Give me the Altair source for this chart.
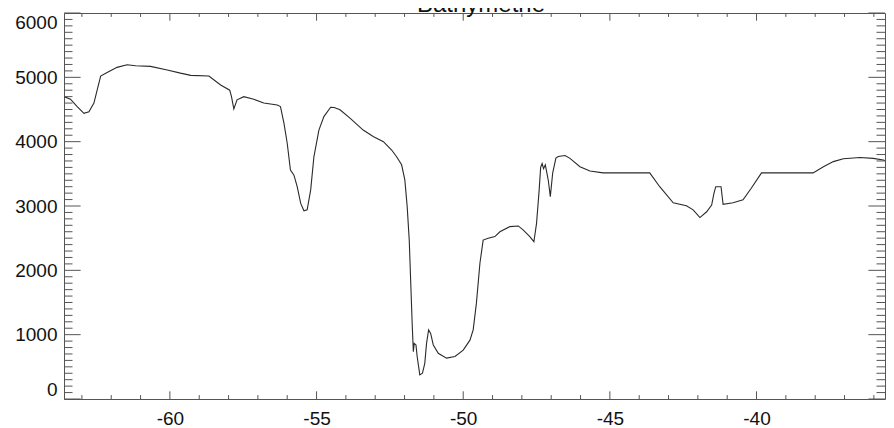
import altair as alt
import pandas as pd

TITLE = "Bathymetrie"

LON = [-63.61, -63.39, -63.16, -62.93, -62.76, -62.59, -62.48, -62.36, -62.14, -61.80,
       -61.46, -61.17, -60.66, -60.09, -59.64, -59.29, -58.67, -58.27, -57.96, -57.90,
       -57.82, -57.71, -57.48, -57.14, -56.80, -56.34, -56.23, -56.11, -56.00, -55.89,
       -55.77, -55.66, -55.54, -55.43, -55.32, -55.20, -55.09, -54.92, -54.75, -54.52,
       -54.40, -54.20, -53.86, -53.41, -53.07, -52.72, -52.44, -52.27, -52.10, -51.99,
       -51.91, -51.84, -51.78, -51.74, -51.70, -51.67, -51.61, -51.57, -51.48, -51.39,
       -51.31, -51.25, -51.18, -51.11, -51.02, -50.85, -50.57, -50.28, -50.00, -49.77,
       -49.66, -49.55, -49.43, -49.32, -49.15, -48.92, -48.75, -48.41, -48.12, -47.95,
       -47.73, -47.59, -47.50, -47.41, -47.36, -47.31, -47.26, -47.20, -47.10, -47.03,
       -46.95, -46.84, -46.76, -46.53, -46.36, -46.02, -45.68, -45.23, -43.64, -43.30,
       -42.84, -42.39, -42.16, -41.93, -41.70, -41.53, -41.45, -41.39, -41.21, -41.14,
       -40.80, -40.46, -40.18, -39.83, -38.07, -37.72, -37.38, -37.04, -36.47, -36.02,
       -35.68, -35.35]
DEPTH = [4700, 4660, 4545, 4440, 4465, 4600, 4800, 5020, 5075, 5155,
         5195, 5180, 5170, 5115, 5065, 5030, 5020, 4880, 4800, 4700,
         4510, 4650, 4700, 4660, 4600, 4570, 4545, 4285, 3975, 3560,
         3480, 3300, 3040, 2925, 2940, 3250, 3765, 4180, 4390, 4535,
         4530, 4495, 4365, 4180, 4080, 4000, 3870, 3765, 3640, 3405,
         2990, 2470, 1695, 1175, 735, 865, 840, 660, 375, 400,
         555, 865, 1075, 1020, 840, 710, 635, 660, 760, 915,
         1075, 1490, 2110, 2470, 2500, 2525, 2600, 2680, 2690, 2625,
         2525, 2445, 2730, 3250, 3600, 3660, 3580, 3640, 3400, 3145,
         3510, 3745, 3770, 3785, 3740, 3610, 3545, 3515, 3515, 3300,
         3050, 3005, 2940, 2820, 2910, 3015, 3200, 3300, 3300, 3025,
         3050, 3095, 3275, 3515, 3515, 3610, 3690, 3735, 3755, 3740,
         3715, 3670]

X_MAJOR = [-60, -55, -50, -45, -40]
X_MINOR = [-63, -62, -61, -59, -58, -57, -56, -54, -53, -52, -51, -49, -48, -47, -46,
           -44, -43, -42, -41, -39, -38, -37, -36]
Y_MAJOR = [0, 1000, 2000, 3000, 4000, 5000, 6000]
Y_MINOR = [v for v in range(100, 6000, 100) if v % 1000 != 0]

W, H = 821, 386
FONT = "Liberation Sans"
AX = "#555555"

xs = alt.Scale(domain=[-63.61, -35.62], nice=False, zero=False)
ys = alt.Scale(domain=[0, 6000], nice=False, zero=False)

xaxis = alt.Axis(values=X_MAJOR, ticks=False, domain=False, grid=False,
                 labelFont=FONT, labelFontSize=19, labelColor="#111111",
                 labelPadding=10, format="d", labelExpr="replace(datum.label, '\u2212', '-')")
yaxis = alt.Axis(values=Y_MAJOR, ticks=False, domain=False, grid=False,
                 labelFont=FONT, labelFontSize=19, labelColor="#111111",
                 labelPadding=7, labelFlush=True, format="d")

df = pd.DataFrame({"lon": LON, "depth": DEPTH, "i": range(len(LON))})

line = alt.Chart(df).mark_line(color="#2a2a2a", strokeWidth=1.1, clip=True).encode(
    x=alt.X("lon:Q", scale=xs, title=None, axis=xaxis),
    y=alt.Y("depth:Q", scale=ys, title=None, axis=yaxis),
    order="i:Q",
)


def xticks(vals, length):
    d = pd.DataFrame({"v": vals})
    bottom = alt.Chart(d).mark_rule(color=AX, strokeWidth=1).encode(
        x=alt.X("v:Q", scale=xs, title=None, axis=xaxis), y=alt.value(H), y2=alt.value(H - length))
    top = alt.Chart(d).mark_rule(color=AX, strokeWidth=1).encode(
        x=alt.X("v:Q", scale=xs, title=None, axis=xaxis), y=alt.value(0), y2=alt.value(length))
    return [bottom, top]


def yticks(vals, length):
    d = pd.DataFrame({"v": vals})
    left = alt.Chart(d).mark_rule(color=AX, strokeWidth=1).encode(
        y=alt.Y("v:Q", scale=ys, title=None, axis=yaxis), x=alt.value(0), x2=alt.value(length))
    right = alt.Chart(d).mark_rule(color=AX, strokeWidth=1).encode(
        y=alt.Y("v:Q", scale=ys, title=None, axis=yaxis), x=alt.value(W), x2=alt.value(W - length))
    return [left, right]


title = alt.Chart(pd.DataFrame({"t": [TITLE]})).mark_text(
    font=FONT, fontSize=24, align="center", baseline="alphabetic", color="#111111"
).encode(x=alt.value(417), y=alt.value(-1), text="t:N")

layers = ([line] + xticks(X_MAJOR, 7.7) + xticks(X_MINOR, 3.9)
          + yticks(Y_MAJOR, 16.6) + yticks(Y_MINOR, 8.5) + [title])

chart = alt.layer(*layers).properties(
    width=W, height=H,
    padding={"left": 56, "top": 5, "right": 1, "bottom": 27},
    autosize=alt.AutoSizeParams(type="none"),
    background="white",
).configure_view(stroke=AX, strokeWidth=1)

chart.save("out.html", embed_options={"renderer": "svg", "actions": False})
